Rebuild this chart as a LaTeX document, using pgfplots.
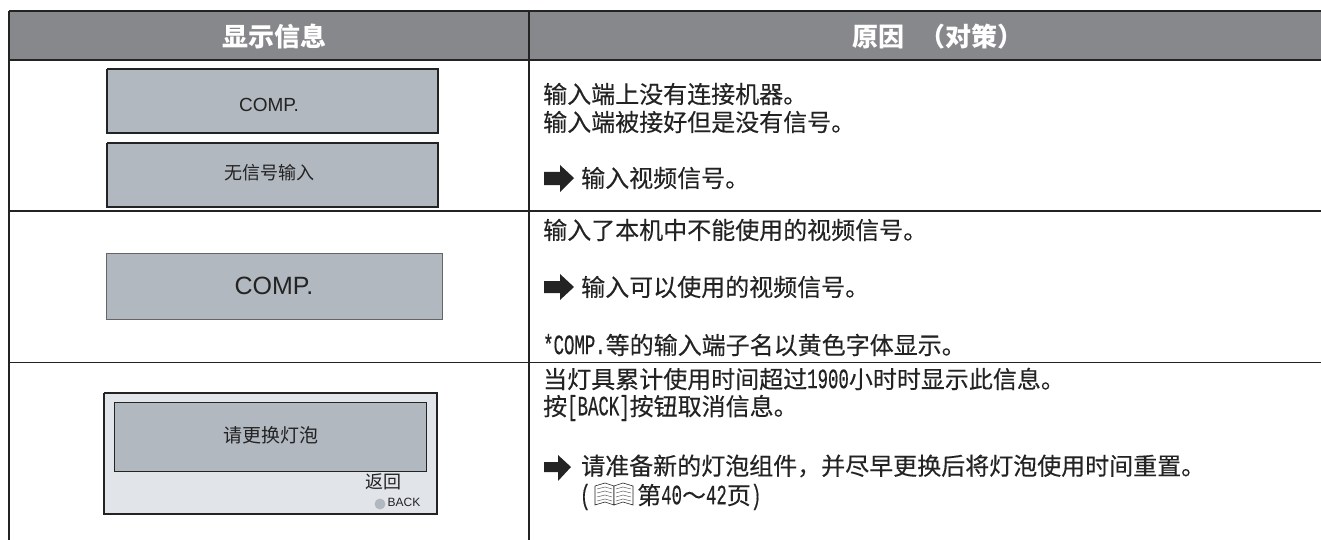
\documentclass[border=0pt]{standalone}
\usepackage{pgfplots}
\pgfplotsset{compat=1.18}
\usepackage{fontspec}
\setmainfont{Liberation Sans}
\newfontfamily\cjk{Noto Sans CJK SC}
\newfontfamily\cjkb[FakeBold=0.25]{Noto Sans CJK SC}
\newfontfamily\lat[FakeStretch=0.62,FakeBold=0.4]{Liberation Mono}
\newcommand{\body}{\fontsize{24}{26}\selectfont\cjkb}
\newcommand{\la}[1]{{\fontsize{28}{26}\selectfont\lat #1}}
\definecolor{hdr}{HTML}{87888C}
\definecolor{lcd}{HTML}{B2B8C0}
\definecolor{pan}{HTML}{E1E4E9}
\definecolor{ink}{HTML}{232323}
\tikzset{txt/.style={anchor=west,inner sep=0pt,text=ink,font=\body}}
\begin{document}
\begin{tikzpicture}[x=1pt,y=1pt]
\useasboundingbox (0,0) rectangle (1321pt,540pt);
\begin{axis}[
  at={(0,0)},anchor=south west,
  scale only axis,width=1321pt,height=540pt,
  xmin=0,xmax=1321,ymin=0,ymax=540,y dir=reverse,
  hide axis,
  clip=true,
]
% header band
\addplot[fill=hdr,draw=none] coordinates {(9,11)(1321,11)(1321,60)(9,60)(9,11)};
% display boxes
\addplot[fill=lcd,draw=ink,line width=1.5pt] coordinates {(107,69)(438,69)(438,133)(107,133)(107,69)};
\addplot[fill=lcd,draw=ink,line width=1.5pt] coordinates {(107,143)(438,143)(438,207)(107,207)(107,143)};
\addplot[fill=lcd,draw=ink!70,line width=0.8pt] coordinates {(106,253)(442,253)(442,319)(106,319)(106,253)};
\addplot[fill=pan,draw=ink,line width=1.5pt] coordinates {(104,393)(437,393)(437,514)(104,514)(104,393)};
\addplot[fill=lcd,draw=ink,line width=1pt] coordinates {(114,402)(426,402)(426,471)(114,471)(114,402)};
\addplot[only marks,color=lcd,mark=*,mark size=5.2pt,mark options={fill=lcd,draw=lcd}] coordinates {(380,504)};
% arrows
\addplot[fill=ink,draw=none] coordinates {(544,172)(560,172)(560,165)(574,178)(560,192)(560,185)(544,185)(544,172)};
\addplot[fill=ink,draw=none] coordinates {(544,281)(560,281)(560,274)(574,287)(560,300)(560,293)(544,293)(544,281)};
\addplot[fill=ink,draw=none] coordinates {(544,462)(558,462)(558,455)(571,467)(558,481)(558,472)(544,472)(544,462)};
% rules
\addplot[draw=ink,line width=1.5pt] coordinates {(9,11)(1321,11)};
\addplot[draw=ink,line width=1.5pt] coordinates {(9,60)(1321,60)};
\addplot[draw=ink,line width=1.2pt] coordinates {(9,211)(1321,211)};
\addplot[draw=ink,line width=1.2pt] coordinates {(9,362.5)(1321,362.5)};
\addplot[draw=ink,line width=1.2pt] coordinates {(9,11)(9,540)};
\addplot[draw=ink,line width=1.2pt] coordinates {(529,11)(529,540)};
% book
\addplot[draw=ink,line width=0.6pt,fill=white] coordinates {(595,486)(605,483)(614,486)(614,505)(605,502)(595,505)(595,486)};
\addplot[draw=ink,line width=0.6pt,fill=white] coordinates {(614,486)(623,483)(633,486)(633,505)(623,502)(614,505)(614,486)};
\addplot[draw=ink!70,line width=0.5pt] coordinates {(597,489)(605,487)(612,489)};
\addplot[draw=ink!70,line width=0.5pt] coordinates {(597,493)(605,491)(612,493)};
\addplot[draw=ink!70,line width=0.5pt] coordinates {(597,497)(605,495)(612,497)};
\addplot[draw=ink!70,line width=0.5pt] coordinates {(597,501)(605,499)(612,501)};
\addplot[draw=ink!70,line width=0.5pt] coordinates {(616,489)(623,487)(631,489)};
\addplot[draw=ink!70,line width=0.5pt] coordinates {(616,493)(623,491)(631,493)};
\addplot[draw=ink!70,line width=0.5pt] coordinates {(616,497)(623,495)(631,497)};
\addplot[draw=ink!70,line width=0.5pt] coordinates {(616,501)(623,499)(631,501)};
% text
\node[text=white,font=\fontsize{26}{28}\selectfont\cjk\bfseries] at (axis cs:274,37) {显示信息};
\node[text=white,font=\fontsize{26}{28}\selectfont\cjk\bfseries,anchor=west] at (axis cs:849,37) {原因\hspace{15pt}（对策）};
\node[text=ink,font=\fontsize{19}{21}\selectfont] at (axis cs:269,105) {COMP.};
\node[text=ink,font=\fontsize{18}{20}\selectfont\cjk] at (axis cs:269,173) {无信号输入};
\node[text=ink,font=\fontsize{25}{27}\selectfont] at (axis cs:274,286) {COMP.};
\node[text=ink,font=\fontsize{19}{21}\selectfont\cjk] at (axis cs:271,435) {请更换灯泡};
\node[text=ink,font=\fontsize{18}{20}\selectfont\cjk] at (axis cs:383,482) {返回};
\node[text=ink,font=\fontsize{12}{14}\selectfont] at (axis cs:404,502) {BACK};
\node[txt] at (axis cs:543,94) {输入端上没有连接机器。};
\node[txt] at (axis cs:543,122) {输入端被接好但是没有信号。};
\node[txt] at (axis cs:581,178) {输入视频信号。};
\node[txt] at (axis cs:543,230) {输入了本机中不能使用的视频信号。};
\node[txt] at (axis cs:581,287) {输入可以使用的视频信号。};
\node[txt] at (axis cs:543,345) {\la{*COMP.}等的输入端子名以黄色字体显示。};
\node[txt] at (axis cs:543,379) {当灯具累计使用时间超过\la{1900}小时时显示此信息。};
\node[txt] at (axis cs:543,408) {按\la{[BACK]}按钮取消信息。};
\node[txt] at (axis cs:581,466) {请准备新的灯泡组件，并尽早更换后将灯泡使用时间重置。};
\node[txt] at (axis cs:580,497) {\la{(}};
\node[txt] at (axis cs:637,497) {第\la{40}～\la{42}页\la{)}};
\end{axis}
\end{tikzpicture}
\end{document}
